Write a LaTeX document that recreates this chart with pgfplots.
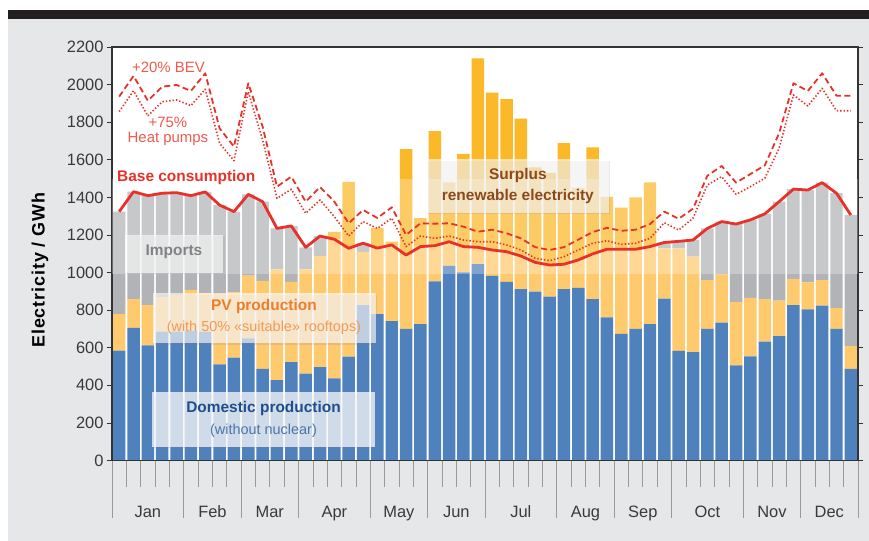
\documentclass[border=0pt]{standalone}
\usepackage{pgfplots}
\pgfplotsset{compat=1.18}
\usepackage{pgfplotstable}
\usepackage{fontspec}
\setmainfont{Liberation Sans}
\usetikzlibrary{shadows}
\definecolor{bggray}{HTML}{E6E7E8}
\definecolor{topbar}{HTML}{231F20}
\definecolor{cblue}{HTML}{4F81BD}
\definecolor{cpv}{HTML}{FFC96E}
\definecolor{csur}{HTML}{FBB829}
\definecolor{cgray}{HTML}{B1B3B6}
\definecolor{cred}{HTML}{E8312A}
\definecolor{clred}{HTML}{EF5A4E}
\definecolor{frame}{HTML}{333333}
\definecolor{tickgray}{HTML}{9A9A9A}
\definecolor{ticktext}{HTML}{3A3A3A}
\definecolor{impgray}{HTML}{808285}
\definecolor{pvtitle}{HTML}{EE7D2B}
\definecolor{pvsub}{HTML}{F29A55}
\definecolor{domtitle}{HTML}{1F4E8C}
\definecolor{domsub}{HTML}{4A76A8}
\definecolor{surbrown}{HTML}{8C4A1C}

\pgfplotstableread{
i B P G S C D H
0 584 195 545 0 1324 1936 1856
1 705 153 572 0 1430 2046 1967
2 613 214 582 0 1409 1914 1833
3 685 185 552 0 1422 1989 1909
4 685 195 545 0 1425 1998 1918
5 690 218 501 0 1409 1966 1888
6 685 205 539 0 1429 2060 1975
7 512 373 474 0 1359 1767 1688
8 547 348 429 0 1324 1670 1595
9 650 333 433 0 1416 2007 1962
10 488 467 422 0 1377 1776 1705
11 428 589 218 0 1235 1457 1395
12 524 426 298 0 1248 1510 1443
13 462 555 117 0 1134 1377 1315
14 497 591 106 0 1194 1455 1386
15 437 740 0 40 1177 1377 1297
16 552 577 0 354 1129 1262 1194
17 827 283 46 0 1156 1333 1271
18 779 351 0 107 1130 1290 1235
19 742 405 0 17 1147 1347 1289
20 700 393 0 563 1093 1200 1138
21 725 413 0 151 1138 1262 1194
22 953 190 0 610 1143 1260 1182
23 1035 129 0 316 1164 1262 1194
24 1001 137 0 493 1138 1244 1173
25 1045 89 0 1006 1134 1217 1164
26 982 138 0 837 1120 1228 1164
27 950 161 0 812 1111 1209 1147
28 912 176 0 731 1088 1182 1120
29 898 156 0 506 1054 1135 1076
30 872 168 0 490 1040 1120 1063
31 912 132 0 644 1044 1135 1084
32 918 149 0 383 1067 1175 1120
33 859 240 0 567 1099 1215 1156
34 762 362 0 279 1124 1238 1169
35 673 451 0 221 1124 1222 1150
36 700 424 0 276 1124 1228 1156
37 726 412 0 342 1138 1258 1182
38 861 268 31 0 1160 1324 1265
39 583 546 37 0 1166 1286 1226
40 577 507 89 0 1173 1340 1289
41 700 260 275 0 1235 1515 1466
42 733 257 281 0 1271 1567 1510
43 506 336 416 0 1258 1478 1416
44 554 311 415 0 1280 1524 1457
45 632 227 453 0 1312 1570 1501
46 662 188 527 0 1377 1741 1661
47 827 139 478 0 1444 2007 1945
48 804 144 491 0 1439 1966 1886
49 824 136 518 0 1478 2060 1980
50 700 111 611 0 1422 1941 1861
51 487 122 697 0 1306 1941 1861
}\data

\begin{document}
\begin{tikzpicture}[x=1bp,y=1bp]
\fill[white] (0,0) rectangle (869,541);
\fill[bggray] (8,0) rectangle (869,522);
\fill[topbar] (8,522) rectangle (869,531);

% ---------- bars ----------
\begin{axis}[
  at={(112bp,80.5bp)}, anchor=south west,
  scale only axis, width=746bp, height=413.5bp,
  xmin=-0.5, xmax=51.5, ymin=0, ymax=2200,
  axis background/.style={fill=white},
  axis line style={draw=none},
  ybar stacked, bar width=0.87,
  ytick=\empty,
  xtick={-0.5,4.5,8.5,12.5,17.5,21.5,25.5,30.5,34.5,38.5,43.5,47.5,51.5},
  minor xtick={0.5,1.5,...,50.5},
  xticklabels={},
  tick align=outside, xtick pos=bottom,
  major tick length=57bp, minor tick length=27bp,
  tick style={draw=tickgray, line width=0.7bp},
  clip=false,
]
\addplot[fill=cblue, draw=none] table[x=i, y=B] {\data};
\addplot[fill=cpv, draw=none] table[x=i, y=P] {\data};
\addplot[fill=cgray, draw=none] table[x=i, y=G] {\data};
\addplot[fill=csur, draw=none] table[x=i, y=S] {\data};
\end{axis}

% ---------- overlay band, boxes, lines, frame, y ticks, month labels ----------
\begin{axis}[
  at={(112bp,80.5bp)}, anchor=south west,
  scale only axis, width=746bp, height=413.5bp,
  xmin=-0.5, xmax=51.5, ymin=0, ymax=2200,
  axis line style={draw=frame, line width=1.1bp},
  ytick={0,200,...,2200},
  ytick pos=both, yticklabel pos=left,
  xtick={2,6.5,10.5,15,19.5,23.5,28,32.5,36.5,41,45.5,49.5},
  xticklabels={Jan,Feb,Mar,Apr,May,Jun,Jul,Aug,Sep,Oct,Nov,Dec},
  xtick pos=bottom,
  x tick style={draw=none},
  y tick style={draw=frame, line width=0.8bp},
  tick align=outside, major tick length=5bp,
  tick label style={font=\fontsize{16.5}{19}\selectfont, text=ticktext},
  xticklabel style={yshift=-37bp},
  /pgf/number format/assume math mode=true,
  /pgf/number format/1000 sep={},
  clip=false,
]
\fill[white, opacity=0.28] (axis cs:-0.5,990) rectangle (axis cs:51.5,1500);
\path[fill=white, fill opacity=0.62, drop shadow={opacity=0.18, shadow xshift=1.5bp, shadow yshift=-1.5bp}]
  (axis cs:0.41,1000) rectangle (axis cs:7.24,1200);
\path[fill=white, fill opacity=0.62, drop shadow={opacity=0.18, shadow xshift=1.5bp, shadow yshift=-1.5bp}]
  (axis cs:2.36,625) rectangle (axis cs:17.9,891);
\path[fill=white, fill opacity=0.72, drop shadow={opacity=0.18, shadow xshift=1.5bp, shadow yshift=-1.5bp}]
  (axis cs:2.29,72) rectangle (axis cs:17.83,364);
\path[fill=white, fill opacity=0.58, drop shadow={opacity=0.18, shadow xshift=1.5bp, shadow yshift=-1.5bp}]
  (axis cs:21.45,1317) rectangle (axis cs:34.13,1604);
\addplot[cred, line width=1.8bp, dash pattern=on 6bp off 3.5bp, line join=round] table[x=i, y=D] {\data};
\addplot[cred, line width=1.6bp, dash pattern=on 1.4bp off 2bp, line join=round] table[x=i, y=H] {\data};
\addplot[cred, line width=2.8bp, line join=round] table[x=i, y=C] {\data};
\node[text=impgray, font=\fontsize{15.5}{18}\selectfont\bfseries] at (axis cs:3.82,1109) {Imports};
\node[text=pvtitle, font=\fontsize{15.5}{18}\selectfont\bfseries] at (axis cs:10.09,817) {PV production};
\node[text=pvsub, font=\fontsize{14.5}{17}\selectfont] at (axis cs:10.09,705) {(with 50\% «suitable» rooftops)};
\node[text=domtitle, font=\fontsize{15.5}{18}\selectfont\bfseries] at (axis cs:10.06,274) {Domestic production};
\node[text=domsub, font=\fontsize{14.5}{17}\selectfont] at (axis cs:10.06,157) {(without nuclear)};
\node[text=surbrown, font=\fontsize{15.5}{18}\selectfont\bfseries] at (axis cs:27.79,1514) {Surplus};
\node[text=surbrown, font=\fontsize{15.5}{18}\selectfont\bfseries] at (axis cs:27.79,1407) {renewable electricity};
\node[anchor=west, text=cred, font=\fontsize{15.5}{18}\selectfont\bfseries, inner sep=0pt] at (axis cs:-0.15,1503) {Base consumption};
\node[anchor=west, text=clred, font=\fontsize{15}{18}\selectfont, inner sep=0pt] at (axis cs:0.89,2094) {+20\% BEV};
\node[text=clred, font=\fontsize{15}{15}\selectfont, align=center, inner sep=0pt] at (axis cs:3.4,1752) {+75\%\\Heat pumps};
\node[rotate=90, text=black, font=\fontsize{18}{20}\selectfont\bfseries\addfontfeature{LetterSpace=5}] at (axis cs:-5.52,1013) {Electricity / GWh};
\end{axis}
\pgfresetboundingbox
\useasboundingbox (0,0) rectangle (869,541);
\end{tikzpicture}
\end{document}
